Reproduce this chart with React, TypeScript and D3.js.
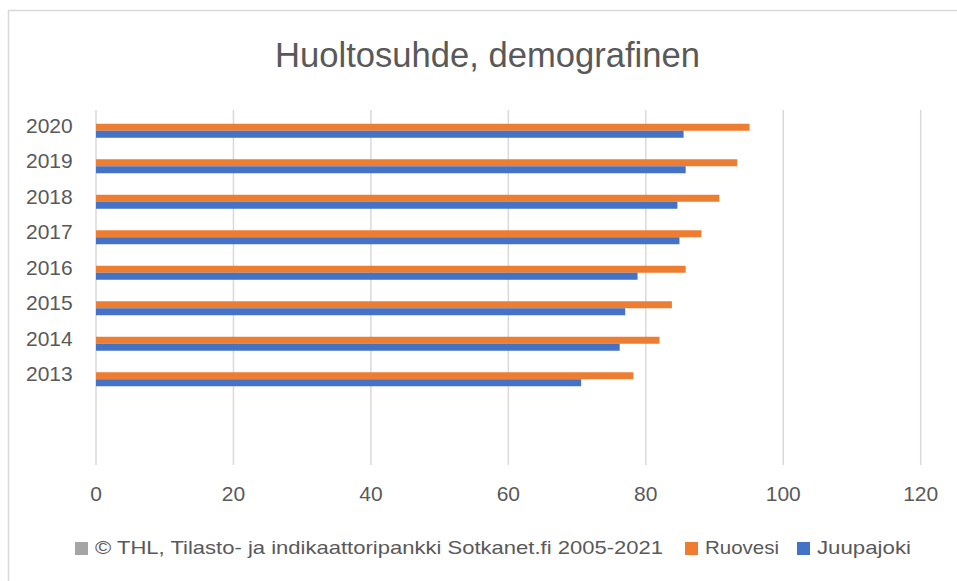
import React from "react";
import * as d3 from "d3";

const years = ["2020", "2019", "2018", "2017", "2016", "2015", "2014", "2013"];
const emptySlots = ["_a", "_b"];
const ruovesi = [95.1, 93.3, 90.7, 88.1, 85.8, 83.8, 82.0, 78.2];
const juupajoki = [85.5, 85.8, 84.6, 84.9, 78.8, 77.0, 76.2, 70.6];
const xTicks = [0, 20, 40, 60, 80, 100, 120];
const title = "Huoltosuhde, demografinen";
const legendItems = [
  { label: "© THL, Tilasto- ja indikaattoripankki Sotkanet.fi 2005-2021", color: "#A5A5A5", x: 75, textX: 95, textW: 568 },
  { label: "Ruovesi", color: "#ED7D31", x: 685, textX: 705, textW: 74 },
  { label: "Juupajoki", color: "#4472C4", x: 797, textX: 817, textW: 94 },
];

const W = 957;
const H = 581;
const FONT = "'Liberation Sans', Arial, sans-serif";
const TXT = "#595959";
const GRID = "#D9D9D9";

export default function App() {
  const x = d3.scaleLinear().domain([0, 120]).range([96, 920.7]);
  const y = d3
    .scaleBand<string>()
    .domain([...years, ...emptySlots])
    .range([113, 468])
    .padding(0);
  const barH = 7;
  const gridTop = 110;
  const gridBottom = 465;

  return (
    <svg
      width={W}
      height={H}
      style={{ position: "absolute", left: 0, top: 0, background: "#fff" }}
      fontFamily={FONT}
    >
      <rect x={0} y={0} width={W} height={H} fill="#fff" />
      <rect x={8.5} y={10.5} width={W + 20} height={H + 20} fill="none" stroke={GRID} strokeWidth={1.5} />
      <text
        x={487.5}
        y={66.5}
        textAnchor="middle"
        fontSize={35}
        fill={TXT}
        textLength={425}
        lengthAdjust="spacingAndGlyphs"
      >
        {title}
      </text>
      {xTicks.map((t) => (
        <g key={t}>
          <line x1={x(t)} x2={x(t)} y1={gridTop} y2={gridBottom} stroke={GRID} strokeWidth={1.5} />
          <text x={x(t)} y={501} textAnchor="middle" fontSize={21} fill={TXT}>
            {t}
          </text>
        </g>
      ))}
      {years.map((yr, i) => {
        const c = (y(yr) as number) + y.bandwidth() / 2;
        return (
          <g key={yr}>
            <rect x={x(0)} y={c - barH} width={x(ruovesi[i]) - x(0)} height={barH} fill="#ED7D31" />
            <rect x={x(0)} y={c} width={x(juupajoki[i]) - x(0)} height={barH} fill="#4472C4" />
            <text x={72.7} y={c + 2} textAnchor="end" fontSize={21} fill={TXT}>
              {yr}
            </text>
          </g>
        );
      })}
      {legendItems.map((it) => (
        <g key={it.label}>
          <rect x={it.x} y={542} width={13} height={13} fill={it.color} />
          <text
            x={it.textX}
            y={553.5}
            fontSize={19}
            fill={TXT}
            textLength={it.textW}
            lengthAdjust="spacingAndGlyphs"
          >
            {it.label}
          </text>
        </g>
      ))}
    </svg>
  );
}
